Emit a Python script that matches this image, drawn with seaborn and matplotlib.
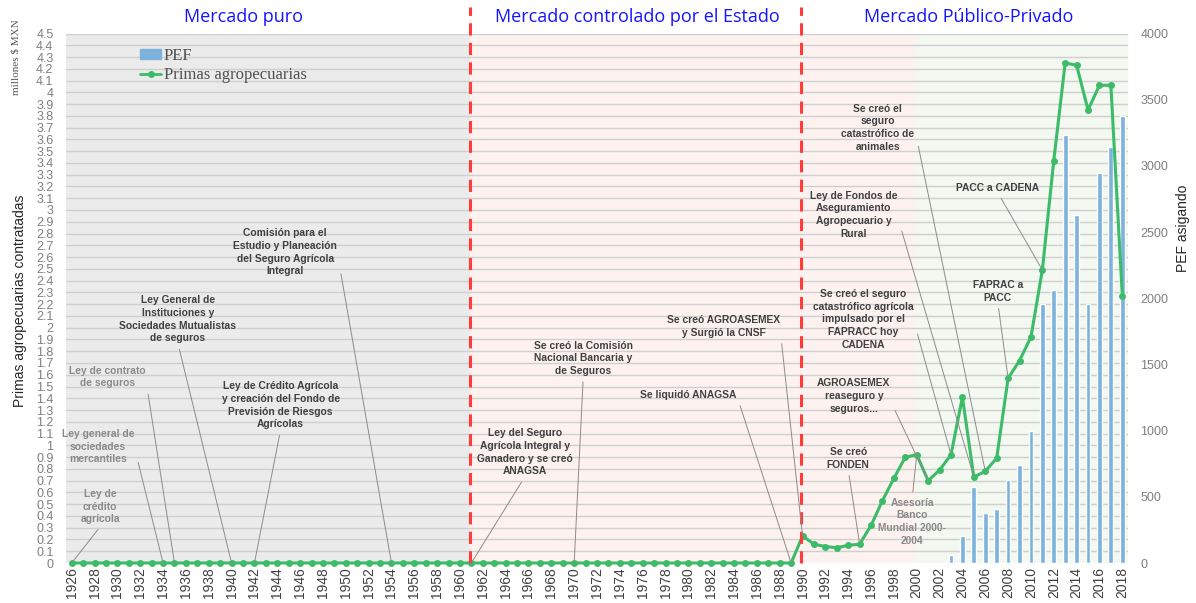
import numpy as np
import pandas as pd
import matplotlib
matplotlib.use("Agg")
import matplotlib.pyplot as plt
import seaborn as sns
from matplotlib.patches import Patch
from matplotlib.lines import Line2D

# datos
years = list(range(1926, 2019))
primas = [0, 0, 0, 0, 0, 0, 0, 0, 0, 0, 0, 0, 0, 0, 0, 0,
          0, 0, 0, 0, 0, 0, 0, 0, 0, 0, 0, 0, 0, 0, 0, 0,
          0, 0, 0, 0, 0, 0, 0, 0, 0, 0, 0, 0, 0, 0, 0, 0,
          0, 0, 0, 0, 0, 0, 0, 0, 0, 0, 0, 0, 0, 0, 0, 0,
          0.23, 0.16, 0.14, 0.13, 0.15, 0.16, 0.32, 0.53, 0.72, 0.90,
          0.92, 0.70, 0.79, 0.92, 1.41, 0.73, 0.78, 0.89, 1.57, 1.72,
          1.92, 2.49, 3.42, 4.25, 4.23, 3.85, 4.06, 4.06, 2.27]
pef_years = list(range(2003, 2019))
pef = [60, 204, 571, 380, 405, 626, 737, 996, 1960, 2060, 3235, 2626, 1960, 2946, 3142, 3373]

etapas = ["Mercado puro", "Mercado controlado por el Estado", "Mercado Público-Privado"]

# texto, posicion del texto (año, valor), punto (año, valor), relpos, color
notas = [
    ("Ley de\ncrédito\nagrícola", (1928.5, 0.48), (1926, 0), (0.55, 0), "#8a8a8a"),
    ("Ley general de\nsociedades\nmercantiles", (1928.3, 0.99), (1934, 0), (1, 0.5), "#8a8a8a"),
    ("Ley de contrato\nde seguros", (1929.1, 1.58), (1935, 0), (1, 0.5), "#8a8a8a"),
    ("Ley General de\nInstituciones y\nSociedades Mutualistas\nde seguros", (1935.3, 2.07), (1940, 0), (0.5, 0), "#404040"),
    ("Ley de Crédito Agrícola\ny creación del Fondo de\nPrevisión de Riesgos\nAgrícolas", (1944.3, 1.34), (1942, 0), (0.5, 0), "#404040"),
    ("Comisión para el\nEstudio y Planeación\ndel Seguro Agrícola\nIntegral", (1944.7, 2.64), (1954, 0), (1, 0.5), "#404040"),
    ("Ley del Seguro\nAgrícola Integral y\nGanadero y se creó\nANAGSA", (1965.7, 0.94), (1961, 0), (0.5, 0), "#404040"),
    ("Se creó la Comisión\nNacional Bancaria y\nde Seguros", (1970.8, 1.74), (1970, 0), (0.5, 0), "#404040"),
    ("Se liquidó ANAGSA", (1980.0, 1.43), (1989, 0), (1, 0.5), "#404040"),
    ("Se creó AGROASEMEX\ny Surgió la CNSF", (1983.1, 2.01), (1990, 0.23), (1, 0.3), "#404040"),
    ("Se creó el\nseguro\ncatastrófico de\nanimales", (1996.6, 3.70), (2006, 0.78), (1, 0.5), "#404040"),
    ("Ley de Fondos de\nAseguramiento\nAgropecuario y\nRural", (1994.5, 2.96), (2005, 0.73), (1, 0.45), "#404040"),
    ("Se creó el seguro\ncatastrófico agrícola\nimpulsado por el\nFAPRACC hoy\nCADENA", (1995.3, 2.07), (2003, 0.92), (1, 0.5), "#404040"),
    ("AGROASEMEX\nreaseguro y\nseguros...", (1994.5, 1.42), (2001, 0.70), (1, 0.35), "#404040"),
    ("Se creó\nFONDEN", (1994.0, 0.89), (1995, 0.16), (0.5, 0), "#404040"),
    ("Asesoría\nBanco\nMundial 2000-\n2004", (1999.6, 0.35), (2000, 0.92), (0.5, 1), "#8a8a8a"),
    ("FAPRAC a\nPACC", (2007.1, 2.31), (2008, 1.57), (0.5, 0), "#404040"),
    ("PACC a CADENA", (2007.1, 3.19), (2011, 2.49), (0.5, 0), "#404040"),
]

sns.set_style("white")
plt.rcParams["font.family"] = ["Liberation Sans", "DejaVu Sans"]

fig = plt.figure(figsize=(11.96, 6.03), dpi=100)
ax = fig.add_axes([66 / 1196, 1 - 563 / 603, (1128 - 66) / 1196, (563 - 33.5) / 603])
ax_bar = ax.twinx()
ax_line = ax.twinx()

# fondos de cada etapa
ax.axvspan(1925.5, 1960.9, color="#ebebeb", lw=0, zorder=0)
ax.axvspan(1960.9, 1999.9, color="#fdf2ef", lw=0, zorder=0)
ax.axvspan(1999.9, 2018.5, color="#f3f8f1", lw=0, zorder=0)

ax.set_ylim(0, 4.5)
yt = np.round(np.arange(0, 4.51, 0.1), 1)
ax.set_yticks(yt)
ax.set_yticklabels([f"{v:g}" for v in yt])
for v in yt[1:]:
    ax.axhline(v, color="#cfcfcf", lw=1, zorder=1)
ax.tick_params(axis="y", length=0, pad=9, labelsize=9, labelcolor="#7f7f7f")
ax.set_xlim(1925.5, 2018.5)
ax.set_xticks(years[::2])
ax.set_xticklabels([str(y) for y in years[::2]], rotation=90)
ax.tick_params(axis="x", length=0, pad=3, labelsize=10, labelcolor="#404040")

# barras PEF (eje derecho)
sns.barplot(x=pef_years, y=pef, native_scale=True, width=0.42, color="#7db2dd",
            saturation=1, errorbar=None, ax=ax_bar, zorder=2)
ax_bar.set_ylim(0, 4000)
ax_bar.set_yticks(range(0, 4001, 500))
ax_bar.tick_params(axis="y", length=0, pad=9, labelsize=9, labelcolor="#7f7f7f")
ax_bar.set_xlim(1925.5, 2018.5)

# linea primas (eje izquierdo)
sns.lineplot(x=years, y=primas, color="#3cbb68", lw=2.2, marker="o", markersize=5,
             markeredgewidth=0, ax=ax_line)
for ln in ax_line.lines:
    ln.set_clip_on(False)
ax_line.set_ylim(0, 4.5)
ax_line.set_xlim(1925.5, 2018.5)
ax_line.yaxis.set_visible(False)

for a in (ax, ax_bar, ax_line):
    for s in a.spines.values():
        s.set_visible(False)
    a.set_xlabel("")
    a.set_ylabel("")

# lineas rojas de cambio de etapa
for xv in (1960.9, 1989.85):
    ax_line.axvline(xv, ymin=0, ymax=1.05, color="#ff3b3b", lw=2.2,
                    dashes=(4, 2.4), clip_on=False, zorder=3)

# anotaciones
for txt, xyt, xy, rp, col in notas:
    ax_line.annotate(txt, xy=xy, xytext=xyt, ha="center", va="center",
                     fontsize=7.4, fontweight="bold", color=col, linespacing=1.33,
                     arrowprops=dict(arrowstyle="-", color="#8c8c8c", lw=0.7,
                                     relpos=rp, shrinkA=2, shrinkB=0))

# titulos de etapas
for xv, t in zip((243, 637, 969), etapas):
    fig.text(xv / 1196, 1 - 17 / 603, t, ha="center", va="center", fontsize=13,
             color="#1414ff", fontweight="medium", family=["Open Sans", "DejaVu Sans"])

fig.text(20 / 1196, 1 - 301 / 603, "Primas agropecuarias contratadas", rotation=90,
         ha="center", va="center", fontsize=10, color="#262626")
fig.text(16 / 1196, 1 - 57 / 603, "millones $ MXN", rotation=90, ha="center", va="center",
         fontsize=8, color="#595959", family=["Liberation Serif", "DejaVu Serif"])
fig.text(1183 / 1196, 1 - 228 / 603, "PEF asigando", rotation=90, ha="center", va="center",
         fontsize=10, color="#262626")

handles = [Patch(color="#7db2dd"),
           Line2D([0], [0], color="#3cbb68", lw=2, marker="o", markersize=4)]
ax_line.legend(handles, ["PEF", "Primas agropecuarias"], loc="upper left",
               bbox_to_anchor=(66 / 1062, 1 - 6 / 529.5), frameon=False,
               prop={"family": ["Liberation Serif", "DejaVu Serif"], "size": 12},
               labelcolor="#505050", handlelength=1.25, handleheight=0.5,
               handletextpad=0.15, labelspacing=0.2, borderpad=0)

fig.savefig("out.png", dpi=100)
